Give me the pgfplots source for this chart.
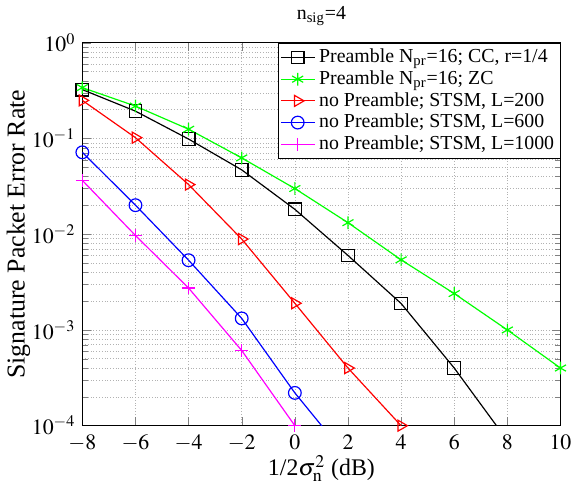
\documentclass[border=0pt]{standalone}
\usepackage{mathptmx}
\usepackage[no-math]{fontspec}
\setmainfont{Liberation Serif}
\usepackage{pgfplots}
\pgfplotsset{compat=1.18}
\definecolor{mgreen}{rgb}{0,1,0}
\definecolor{mmag}{rgb}{1,0,1}
\definecolor{mred}{rgb}{1,0,0}
\definecolor{mblue}{rgb}{0,0,1}
\begin{document}
\begin{tikzpicture}
\begin{semilogyaxis}[
 width=241pt, height=193pt, scale only axis,
 xmin=-8, xmax=10, ymin=1e-4, ymax=1,
 xtick={-8,-6,...,10},
 ytick={1e-4,1e-3,1e-2,1e-1,1},
 grid=both,
 major grid style={densely dotted, gray!60, line width=0.3pt},
 minor grid style={densely dotted, gray!60, line width=0.3pt},
 tick align=inside,
 tick label style={font=\fontsize{11}{13}\selectfont},
 xticklabel style={yshift=-1pt},
 title={n\textsubscript{sig}=4},
 title style={yshift=-1pt},
 xlabel={1/2$\sigma_{\mathrm{n}}^2$ (dB)},
 ylabel={Signature Packet Error Rate},
 xlabel style={font=\fontsize{12}{14}\selectfont, yshift=5pt},
 ylabel style={font=\fontsize{13}{15}\selectfont, yshift=-6pt},
 legend cell align=left,
 legend style={at={(1,1)}, anchor=north east, draw=black, fill=white, inner sep=1pt, row sep=-1.5pt, font=\normalsize},
 every axis plot/.append style={line width=0.6pt, mark size=3.2pt},
]
\addplot[black, mark=square] coordinates {(-8,0.324) (-6,0.193) (-4,0.0986) (-2,0.047) (0,0.0182) (2,0.006) (4,0.00189) (6,0.0004) (8,0.00007)};
\addlegendentry{Preamble N\textsubscript{pr}=16; CC, r=1/4}
\addplot[mgreen, mark=asterisk] coordinates {(-8,0.34) (-6,0.218) (-4,0.125) (-2,0.0627) (0,0.030) (2,0.0132) (4,0.0054) (6,0.0024) (8,0.001) (10,0.0004)};
\addlegendentry{Preamble N\textsubscript{pr}=16; ZC}
\addplot[mred, mark=triangle, mark options={rotate=-90}] coordinates {(-8,0.25) (-6,0.102) (-4,0.033) (-2,0.0089) (0,0.0019) (2,0.0004) (4,0.0001)};
\addlegendentry{no Preamble; STSM, L=200}
\addplot[mblue, mark=o] coordinates {(-8,0.0717) (-6,0.0201) (-4,0.00535) (-2,0.00132) (0,0.00022) (2,0.000046)};
\addlegendentry{no Preamble; STSM, L=600}
\addplot[mmag, mark=+] coordinates {(-8,0.0365) (-6,0.0097) (-4,0.00274) (-2,0.00061) (0,0.0001)};
\addlegendentry{no Preamble; STSM, L=1000}
\end{semilogyaxis}
\path (current axis.south west) ++(-41.5pt,-25pt);
\path (current axis.north east) ++(6.5pt,20.5pt);
\end{tikzpicture}
\end{document}
